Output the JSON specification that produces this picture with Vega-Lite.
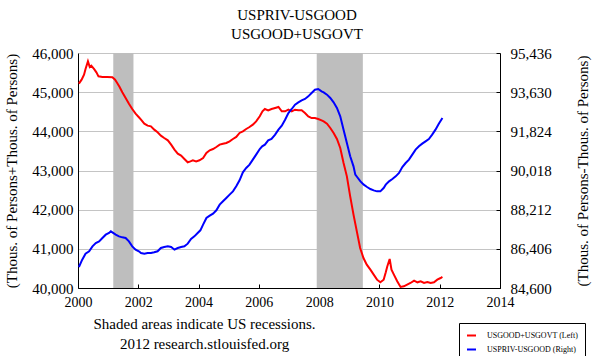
{
  "$schema": "https://vega.github.io/schema/vega-lite/v6.json",
  "width": 422,
  "height": 235,
  "autosize": {"type": "none"},
  "padding": {"left": 78, "top": 53, "right": 93, "bottom": 68},
  "background": "white",
  "title": {
    "text": ["USPRIV-USGOOD", "USGOOD+USGOVT"],
    "font": "Liberation Serif",
    "fontSize": 15,
    "fontWeight": "normal",
    "lineHeight": 19,
    "offset": 4,
    "anchor": "middle",
    "dx": 8,
    "color": "black"
  },
  "config": {
    "view": {"stroke": null},
    "font": "Liberation Serif",
    "style": {
      "guide-label": {"font": "Liberation Serif"},
      "guide-title": {"font": "Liberation Serif"}
    },
    "axis": {
      "labelFont": "Liberation Serif",
      "titleFont": "Liberation Serif",
      "labelColor": "black",
      "titleColor": "black",
      "titleFontWeight": "normal",
      "domainColor": "black",
      "domainWidth": 1,
      "tickColor": "black",
      "labelFlush": false,
      "labelOverlap": false
    },
    "legend": {"labelFont": "Liberation Serif"}
  },
  "datasets": {
    "recessions": [
      {"start": 2001.17, "end": 2001.84},
      {"start": 2007.92, "end": 2009.45}
    ],
    "left": [
      {"t": 2000.03, "v": 45217}, {"t": 2000.12, "v": 45319}, {"t": 2000.20, "v": 45447}, {"t": 2000.25, "v": 45592},
      {"t": 2000.33, "v": 45787}, {"t": 2000.39, "v": 45643}, {"t": 2000.44, "v": 45677}, {"t": 2000.53, "v": 45592},
      {"t": 2000.61, "v": 45506}, {"t": 2000.68, "v": 45404}, {"t": 2000.81, "v": 45387}, {"t": 2000.97, "v": 45387},
      {"t": 2001.14, "v": 45379}, {"t": 2001.23, "v": 45319}, {"t": 2001.30, "v": 45234}, {"t": 2001.38, "v": 45132},
      {"t": 2001.47, "v": 44996}, {"t": 2001.58, "v": 44851}, {"t": 2001.69, "v": 44706}, {"t": 2001.80, "v": 44570},
      {"t": 2001.91, "v": 44451}, {"t": 2002.02, "v": 44360}, {"t": 2002.09, "v": 44298}, {"t": 2002.20, "v": 44196},
      {"t": 2002.31, "v": 44145}, {"t": 2002.42, "v": 44128}, {"t": 2002.53, "v": 44043}, {"t": 2002.64, "v": 43975},
      {"t": 2002.75, "v": 43890}, {"t": 2002.86, "v": 43830}, {"t": 2002.98, "v": 43770}, {"t": 2003.09, "v": 43660},
      {"t": 2003.20, "v": 43532}, {"t": 2003.31, "v": 43430}, {"t": 2003.42, "v": 43379}, {"t": 2003.53, "v": 43294},
      {"t": 2003.64, "v": 43209}, {"t": 2003.73, "v": 43234}, {"t": 2003.81, "v": 43260}, {"t": 2003.92, "v": 43234},
      {"t": 2004.03, "v": 43260}, {"t": 2004.15, "v": 43319}, {"t": 2004.26, "v": 43447}, {"t": 2004.37, "v": 43515},
      {"t": 2004.48, "v": 43549}, {"t": 2004.59, "v": 43600}, {"t": 2004.70, "v": 43660}, {"t": 2004.81, "v": 43685},
      {"t": 2004.92, "v": 43702}, {"t": 2005.03, "v": 43745}, {"t": 2005.14, "v": 43804}, {"t": 2005.25, "v": 43856},
      {"t": 2005.36, "v": 43958}, {"t": 2005.47, "v": 44000}, {"t": 2005.58, "v": 44060}, {"t": 2005.69, "v": 44111},
      {"t": 2005.80, "v": 44170}, {"t": 2005.91, "v": 44255}, {"t": 2006.03, "v": 44383}, {"t": 2006.12, "v": 44511},
      {"t": 2006.20, "v": 44570}, {"t": 2006.31, "v": 44536}, {"t": 2006.42, "v": 44570}, {"t": 2006.54, "v": 44596},
      {"t": 2006.65, "v": 44621}, {"t": 2006.76, "v": 44511}, {"t": 2006.87, "v": 44511}, {"t": 2006.98, "v": 44553},
      {"t": 2007.09, "v": 44511}, {"t": 2007.20, "v": 44553}, {"t": 2007.31, "v": 44536}, {"t": 2007.42, "v": 44536},
      {"t": 2007.53, "v": 44468}, {"t": 2007.64, "v": 44383}, {"t": 2007.75, "v": 44340}, {"t": 2007.86, "v": 44340},
      {"t": 2007.97, "v": 44315}, {"t": 2008.08, "v": 44281}, {"t": 2008.15, "v": 44255}, {"t": 2008.26, "v": 44196},
      {"t": 2008.37, "v": 44085}, {"t": 2008.48, "v": 43958}, {"t": 2008.59, "v": 43804}, {"t": 2008.70, "v": 43575},
      {"t": 2008.81, "v": 43192}, {"t": 2008.92, "v": 42851}, {"t": 2009.03, "v": 42341}, {"t": 2009.14, "v": 41873},
      {"t": 2009.25, "v": 41447}, {"t": 2009.36, "v": 41021}, {"t": 2009.47, "v": 40766}, {"t": 2009.58, "v": 40596},
      {"t": 2009.70, "v": 40468}, {"t": 2009.81, "v": 40341}, {"t": 2009.92, "v": 40213}, {"t": 2010.03, "v": 40145},
      {"t": 2010.14, "v": 40213}, {"t": 2010.21, "v": 40400}, {"t": 2010.26, "v": 40550}, {"t": 2010.34, "v": 40741},
      {"t": 2010.40, "v": 40468}, {"t": 2010.48, "v": 40341}, {"t": 2010.59, "v": 40171}, {"t": 2010.70, "v": 40026},
      {"t": 2010.81, "v": 40043}, {"t": 2010.92, "v": 40085}, {"t": 2011.03, "v": 40128}, {"t": 2011.15, "v": 40187},
      {"t": 2011.26, "v": 40145}, {"t": 2011.37, "v": 40171}, {"t": 2011.48, "v": 40128}, {"t": 2011.59, "v": 40153},
      {"t": 2011.70, "v": 40128}, {"t": 2011.81, "v": 40145}, {"t": 2011.92, "v": 40213}, {"t": 2012.03, "v": 40255},
      {"t": 2012.09, "v": 40281}
    ],
    "right": [
      {"t": 2000.03, "v": 85568}, {"t": 2000.14, "v": 85906}, {"t": 2000.25, "v": 86183}, {"t": 2000.37, "v": 86291},
      {"t": 2000.48, "v": 86521}, {"t": 2000.59, "v": 86675}, {"t": 2000.70, "v": 86752}, {"t": 2000.81, "v": 86906},
      {"t": 2000.92, "v": 87059}, {"t": 2001.03, "v": 87136}, {"t": 2001.09, "v": 87213}, {"t": 2001.14, "v": 87167},
      {"t": 2001.25, "v": 87059}, {"t": 2001.36, "v": 86982}, {"t": 2001.47, "v": 86936}, {"t": 2001.58, "v": 86906},
      {"t": 2001.69, "v": 86752}, {"t": 2001.80, "v": 86521}, {"t": 2001.91, "v": 86368}, {"t": 2002.02, "v": 86291},
      {"t": 2002.09, "v": 86214}, {"t": 2002.20, "v": 86183}, {"t": 2002.31, "v": 86214}, {"t": 2002.42, "v": 86214},
      {"t": 2002.53, "v": 86245}, {"t": 2002.64, "v": 86291}, {"t": 2002.75, "v": 86445}, {"t": 2002.86, "v": 86491},
      {"t": 2002.98, "v": 86521}, {"t": 2003.09, "v": 86491}, {"t": 2003.20, "v": 86368}, {"t": 2003.31, "v": 86445},
      {"t": 2003.42, "v": 86491}, {"t": 2003.53, "v": 86521}, {"t": 2003.64, "v": 86644}, {"t": 2003.75, "v": 86859},
      {"t": 2003.86, "v": 86982}, {"t": 2003.97, "v": 87136}, {"t": 2004.06, "v": 87260}, {"t": 2004.15, "v": 87521},
      {"t": 2004.26, "v": 87828}, {"t": 2004.37, "v": 87936}, {"t": 2004.48, "v": 88028}, {"t": 2004.59, "v": 88182},
      {"t": 2004.70, "v": 88443}, {"t": 2004.81, "v": 88597}, {"t": 2004.92, "v": 88750}, {"t": 2005.03, "v": 88904},
      {"t": 2005.14, "v": 89057}, {"t": 2005.25, "v": 89288}, {"t": 2005.36, "v": 89565}, {"t": 2005.47, "v": 89933},
      {"t": 2005.58, "v": 90133}, {"t": 2005.69, "v": 90287}, {"t": 2005.80, "v": 90518}, {"t": 2005.91, "v": 90748},
      {"t": 2006.03, "v": 91009}, {"t": 2006.11, "v": 91130}, {"t": 2006.20, "v": 91209}, {"t": 2006.31, "v": 91409},
      {"t": 2006.42, "v": 91471}, {"t": 2006.54, "v": 91670}, {"t": 2006.65, "v": 91901}, {"t": 2006.76, "v": 92085},
      {"t": 2006.87, "v": 92362}, {"t": 2006.98, "v": 92669}, {"t": 2007.09, "v": 92854}, {"t": 2007.20, "v": 93054},
      {"t": 2007.31, "v": 93161}, {"t": 2007.42, "v": 93254}, {"t": 2007.53, "v": 93315}, {"t": 2007.64, "v": 93438},
      {"t": 2007.75, "v": 93592}, {"t": 2007.86, "v": 93745}, {"t": 2007.97, "v": 93776}, {"t": 2008.08, "v": 93668},
      {"t": 2008.15, "v": 93622}, {"t": 2008.26, "v": 93515}, {"t": 2008.37, "v": 93361}, {"t": 2008.48, "v": 93161},
      {"t": 2008.59, "v": 92900}, {"t": 2008.70, "v": 92516}, {"t": 2008.81, "v": 91901}, {"t": 2008.92, "v": 91286},
      {"t": 2009.03, "v": 90671}, {"t": 2009.14, "v": 90210}, {"t": 2009.20, "v": 89826}, {"t": 2009.26, "v": 89718},
      {"t": 2009.37, "v": 89518}, {"t": 2009.48, "v": 89365}, {"t": 2009.59, "v": 89257}, {"t": 2009.70, "v": 89165},
      {"t": 2009.81, "v": 89103}, {"t": 2009.92, "v": 89057}, {"t": 2010.03, "v": 89057}, {"t": 2010.14, "v": 89211},
      {"t": 2010.21, "v": 89365}, {"t": 2010.32, "v": 89518}, {"t": 2010.43, "v": 89626}, {"t": 2010.54, "v": 89749},
      {"t": 2010.65, "v": 89903}, {"t": 2010.76, "v": 90179}, {"t": 2010.87, "v": 90364}, {"t": 2010.98, "v": 90518},
      {"t": 2011.09, "v": 90748}, {"t": 2011.20, "v": 90979}, {"t": 2011.31, "v": 91132}, {"t": 2011.42, "v": 91255},
      {"t": 2011.53, "v": 91363}, {"t": 2011.64, "v": 91471}, {"t": 2011.75, "v": 91670}, {"t": 2011.86, "v": 91901},
      {"t": 2011.97, "v": 92178}, {"t": 2012.09, "v": 92439}
    ]
  },
  "layer": [
    {
      "data": {"name": "recessions"},
      "mark": {"type": "rect", "color": "#bebebe"},
      "encoding": {
        "x": {
          "field": "start",
          "type": "quantitative",
          "scale": {"domain": [2000, 2014], "nice": false, "zero": false},
          "axis": {
            "values": [2000, 2002, 2004, 2006, 2008, 2010, 2012, 2014],
            "format": "d",
            "grid": false,
            "ticks": true,
            "tickSize": -4,
            "labelFont": "Liberation Serif",
            "labelFontSize": 14,
            "labelPadding": 11,
            "title": ["Shaded areas indicate US recessions.", "2012 research.stlouisfed.org"],
            "titleFont": "Liberation Serif",
            "titleFontSize": 15,
            "titleLineHeight": 20,
            "titleAlign": "center",
            "titleBaseline": "alphabetic",
            "titleAngle": 0,
            "titleX": 126,
            "titleY": 40
          }
        },
        "x2": {"field": "end"}
      }
    },
    {
      "data": {"name": "left"},
      "mark": {"type": "line", "strokeWidth": 2},
      "encoding": {
        "x": {"field": "t", "type": "quantitative"},
        "y": {
          "field": "v",
          "type": "quantitative",
          "scale": {"domain": [40000, 46000], "nice": false, "zero": false},
          "axis": {
            "values": [40000, 41000, 42000, 43000, 44000, 45000, 46000],
            "format": ",d",
            "grid": true,
            "gridColor": "#c4c4c4",
            "ticks": false,
            "labelFont": "Liberation Serif",
            "labelFontSize": 15,
            "labelPadding": 5,
            "title": "(Thous. of Persons+Thous. of Persons)",
            "titleFont": "Liberation Serif",
            "titleFontSize": 15,
            "titlePadding": 12
          }
        },
        "color": {
          "datum": "USGOOD+USGOVT (Left)",
          "type": "nominal",
          "scale": {
            "domain": ["USGOOD+USGOVT (Left)", "USPRIV-USGOOD (Right)"],
            "range": ["#ff0000", "#0000ff"]
          },
          "legend": {
            "orient": "none",
            "legendX": 381,
            "legendY": 270,
            "title": null,
            "strokeColor": "black",
            "fillColor": "white",
            "padding": 7,
            "labelFont": "Liberation Serif",
            "labelFontSize": 8,
            "labelColor": "black",
            "symbolType": "stroke",
            "symbolSize": 81,
            "symbolStrokeWidth": 2,
            "labelOffset": 10,
            "rowPadding": 4
          }
        }
      }
    },
    {
      "data": {"name": "right"},
      "mark": {"type": "line", "strokeWidth": 2},
      "encoding": {
        "x": {"field": "t", "type": "quantitative"},
        "y": {
          "field": "v",
          "type": "quantitative",
          "scale": {"domain": [84600, 95436], "nice": false, "zero": false},
          "axis": {
            "orient": "right",
            "values": [84600, 86406, 88212, 90018, 91824, 93630, 95436],
            "format": ",d",
            "grid": false,
            "ticks": true,
            "tickSize": -4,
            "labelFont": "Liberation Serif",
            "labelFontSize": 15,
            "labelPadding": 14,
            "title": "(Thous. of Persons-Thous. of Persons)",
            "titleFont": "Liberation Serif",
            "titleFontSize": 15,
            "titleAngle": 270,
            "titleBaseline": "top",
            "titlePadding": 24
          }
        },
        "color": {
          "datum": "USPRIV-USGOOD (Right)",
          "type": "nominal"
        }
      }
    }
  ],
  "resolve": {"scale": {"y": "independent"}, "axis": {"y": "independent"}}
}
